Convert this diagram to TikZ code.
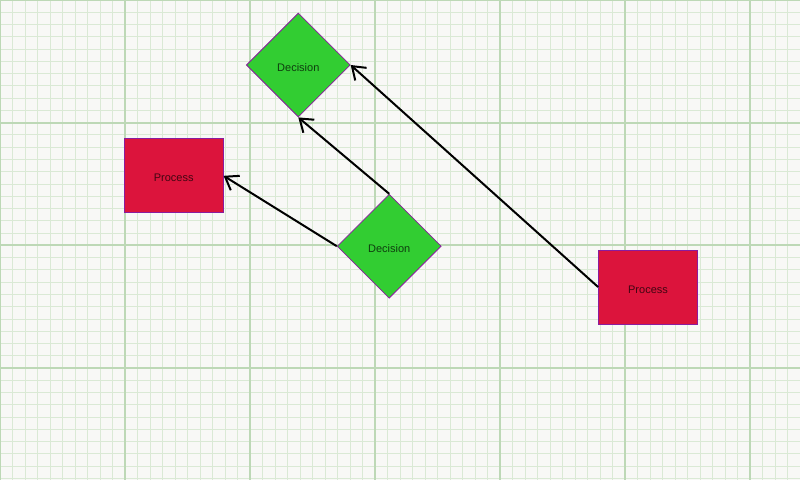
\documentclass[tikz,border=0pt]{standalone}
\usepackage{fontspec}
\setmainfont{Liberation Sans}
\usetikzlibrary{shapes.geometric,arrows.meta}
\definecolor{bgc}{HTML}{F8F8F6}
\definecolor{minorc}{HTML}{DAE9D5}
\definecolor{majorc}{HTML}{BDD8B6}
\definecolor{procfill}{HTML}{DC143C}
\definecolor{decfill}{HTML}{32CD32}
\definecolor{edgec}{HTML}{8A1C9E}
\tikzset{
  procbox/.style={rectangle, draw=edgec, line width=0.8pt, fill=procfill, minimum width=99pt, minimum height=74pt, inner sep=0pt, text height=12pt, text depth=0pt, font=\fontsize{11}{13}\selectfont, text=black, text opacity=0.7},
  decbox/.style={diamond, draw=edgec, line width=0.8pt, fill=decfill, minimum width=104pt, minimum height=104pt, inner sep=0pt, text height=12pt, text depth=0pt, font=\fontsize{11}{13}\selectfont, text=black, text opacity=0.7},
  conn/.style={draw=black, line width=2pt, -{Straight Barb[length=12pt, width=17pt, line width=2pt]}}
}
\begin{document}
\begin{tikzpicture}[x=1pt, y=-1pt]
\useasboundingbox (0,0) rectangle (800,480);
\fill[bgc] (0,0) rectangle (800,480);
\foreach \i in {0,...,64} {
  \draw[minorc, line width=1pt] (\i*12.5,0) -- (\i*12.5,480);
}
\foreach \j in {0,...,39} {
  \draw[minorc, line width=1pt] (0,\j*12.27) -- (800,\j*12.27);
}
\foreach \i in {0,...,6} {
  \draw[majorc, line width=2pt] (\i*125,0) -- (\i*125,480);
}
\foreach \j in {0,...,3} {
  \draw[majorc, line width=2pt] (0,\j*122.7) -- (800,\j*122.7);
}
\node[decbox] (d1) at (298.3,65) {Decision};
\node[decbox] (d2) at (389.2,246.2) {Decision};
\node[procbox] (p1) at (173.7,175.8) {Process};
\node[procbox] (p2) at (648,287) {Process};
\draw[conn] (d2.north) -- (d1.south);
\draw[conn] (d2.west) -- (p1.east);
\draw[conn] (p2.west) -- (d1.east);
\end{tikzpicture}
\end{document}
